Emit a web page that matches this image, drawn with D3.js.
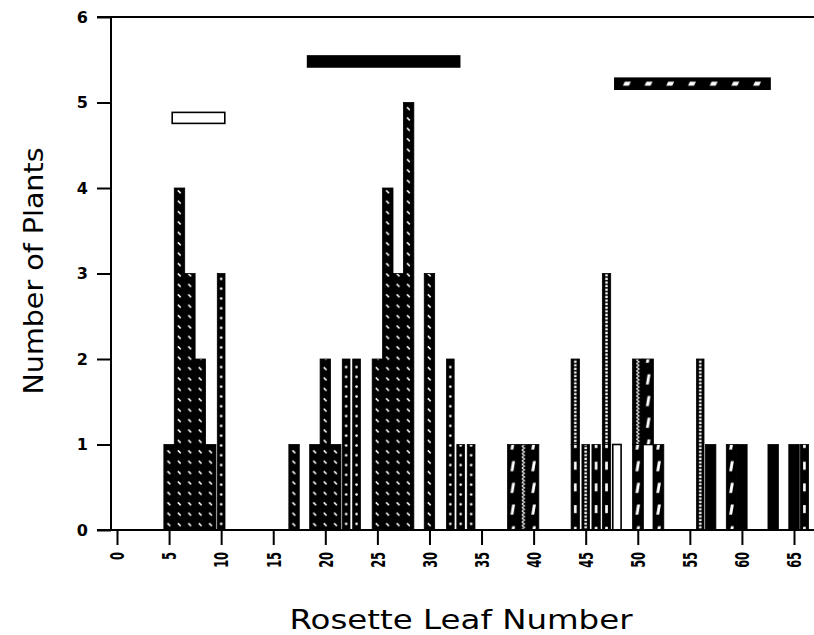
<!DOCTYPE html>
<html>
<head>
<meta charset="utf-8">
<script src="https://cdn.jsdelivr.net/npm/d3@7"></script>
<style>
  body { margin: 0; background: #fff; }
  svg { display: block; }
</style>
</head>
<body>
<div id="chart"></div>
<script>
// ---- data: number of plants per rosette leaf number ----
// one list per bar pattern, [leaf number, plants]
const diagDotCounts = [[5, 1], [6, 4], [7, 3], [8, 2], [9, 1], [17, 1], [19, 1], [20, 2], [21, 1],
                       [25, 2], [26, 4], [27, 3], [28, 5], [30, 3]];
const colDotCounts  = [[10, 3], [22, 2], [23, 2], [32, 2], [33, 1], [34, 1]];
const openCounts    = [[48, 1], [51, 1]];
const slashCounts   = [[38, 1], [40, 1], [50, 1], [51, 1], [52, 1], [59, 1]];
const zigzagCounts  = [[39, 1], [50, 1]];
const dashCounts    = [[44, 1], [46, 1], [47, 1], [66, 1]];
const ladderCounts  = [[44, 1], [45, 1], [47, 2], [56, 2]];
const solidCounts   = [[57, 1], [60, 1], [63, 1], [65, 1]];

// stacking order, bottom to top
const seriesKeys = ['diagDot', 'colDot', 'open', 'slash', 'zigzag', 'dash', 'ladder', 'solid'];
const seriesCounts = {
  diagDot: diagDotCounts, colDot: colDotCounts, open: openCounts, slash: slashCounts,
  zigzag: zigzagCounts, dash: dashCounts, ladder: ladderCounts, solid: solidCounts
};

// range bars above the histogram
const rangeKeys  = ['early', 'middle', 'late'];
const rangeStart = [5.3, 18.3, 47.8];
const rangeEnd   = [10.35, 32.9, 62.7];
const rangeLevel = [4.82, 5.48, 5.22];

const xTicks = d3.range(0, 66, 5);
const yTicks = d3.range(0, 7);

// ---- styles ----
const barWidthFrac = { diagDot: 1, colDot: 0.74, open: 0.8, slash: 1, zigzag: 1, dash: 0.8, ladder: 0.72, solid: 1 };
const rangeFill = { early: '#fff', middle: '#000', late: 'url(#p-hslash)' };

const W = 814, H = 635;
const plot = { left: 111, top: 17, bottom: 530, right: W };

const x = d3.scaleLinear().domain([0, 65]).range([117, 794]);
const y = d3.scaleLinear().domain([0, 6]).range([plot.bottom, plot.top]);
const bw = x(1) - x(0);

const svg = d3.select('#chart').append('svg')
  .attr('width', W)
  .attr('height', H);

// ---- patterns ----
const defs = svg.append('defs');
const px0 = x(0) - bw / 2;
const c = bw / 2;

function pattern(id, h) {
  const p = defs.append('pattern')
    .attr('id', id)
    .attr('patternUnits', 'userSpaceOnUse')
    .attr('x', px0).attr('y', 0)
    .attr('width', bw).attr('height', h);
  p.append('rect').attr('width', bw).attr('height', h).attr('fill', '#000');
  return p;
}

pattern('p-diagDot', 10.4)
  .append('path')
  .attr('d', `M${c - 1.6},${3.2}L${c + 1.2},${6}`)
  .attr('stroke', '#fff').attr('stroke-width', 1.5);

pattern('p-colDot', 9.8)
  .append('circle').attr('cx', c).attr('cy', 4.5).attr('r', 1.3).attr('fill', '#fff');

pattern('p-slash', 21.7)
  .append('path')
  .attr('d', `M${c - 2.3},15.5L${c - 0.6},5.5L${c + 2.3},5.5L${c + 0.6},15.5Z`)
  .attr('fill', '#fff');

pattern('p-zigzag', 3.6)
  .append('path')
  .attr('d', `M${c - 1.3},0L${c + 1.3},1.8L${c - 1.3},3.6`)
  .attr('fill', 'none').attr('stroke', '#fff').attr('stroke-width', 1.1);

pattern('p-dash', 21.7)
  .append('rect').attr('x', c - 1.3).attr('y', 6).attr('width', 2.6).attr('height', 8).attr('fill', '#fff');

pattern('p-ladder', 3.6)
  .append('rect').attr('x', c - 1.2).attr('y', 0.6).attr('width', 2.4).attr('height', 2.2).attr('fill', '#fff');

// horizontal hatch for the top range bar
const hp = defs.append('pattern')
  .attr('id', 'p-hslash')
  .attr('patternUnits', 'userSpaceOnUse')
  .attr('x', x(rangeStart[2])).attr('y', y(rangeLevel[2]) - 5.5)
  .attr('width', 21.7).attr('height', 11);
hp.append('rect').attr('width', 21.7).attr('height', 11).attr('fill', '#000');
hp.append('path').attr('d', 'M8,7.5L10,3.5L16,3.5L14,7.5Z').attr('fill', '#fff');

const fillFor = k => k === 'open' ? '#fff' : k === 'solid' ? '#000' : `url(#p-${k})`;

// ---- stacked table ----
const rows = d3.range(1, 67).map(leaf => {
  const r = { leaf };
  seriesKeys.forEach(k => {
    const hit = seriesCounts[k].find(d => d[0] === leaf);
    r[k] = hit ? hit[1] : 0;
  });
  return r;
});
const widthOf = r => d3.max(seriesKeys, k => r[k] > 0 ? barWidthFrac[k] : 0);

const stacked = d3.stack().keys(seriesKeys)(rows);

stacked.forEach(layer => {
  svg.append('g')
    .selectAll('rect')
    .data(layer.filter(d => d[1] > d[0]))
    .enter()
    .append('rect')
    .attr('x', d => x(d.data.leaf) - bw * widthOf(d.data) / 2)
    .attr('width', d => bw * widthOf(d.data))
    .attr('y', d => y(d[1]))
    .attr('height', d => y(d[0]) - y(d[1]))
    .attr('fill', fillFor(layer.key))
    .attr('stroke', '#000')
    .attr('stroke-width', layer.key === 'open' ? 1.6 : 0.8);
});

// ---- range bars ----
svg.append('g')
  .selectAll('rect')
  .data(rangeKeys)
  .enter()
  .append('rect')
  .attr('x', (d, i) => x(rangeStart[i]))
  .attr('width', (d, i) => x(rangeEnd[i]) - x(rangeStart[i]))
  .attr('y', (d, i) => y(rangeLevel[i]) - 5.5)
  .attr('height', 11)
  .attr('fill', d => rangeFill[d])
  .attr('stroke', '#000')
  .attr('stroke-width', 1.6);

// ---- axes ----
const font = '"DejaVu Sans", Verdana, sans-serif';

svg.append('line')
  .attr('x1', plot.left - 14).attr('x2', plot.right)
  .attr('y1', y(6)).attr('y2', y(6))
  .attr('stroke', '#000').attr('stroke-width', 2);
svg.append('line')
  .attr('x1', plot.left - 14).attr('x2', plot.right)
  .attr('y1', y(0)).attr('y2', y(0))
  .attr('stroke', '#000').attr('stroke-width', 2);
svg.append('line')
  .attr('x1', plot.left).attr('x2', plot.left)
  .attr('y1', y(6)).attr('y2', y(0))
  .attr('stroke', '#000').attr('stroke-width', 2);

const yAxis = svg.append('g')
  .attr('transform', `translate(${plot.left},0)`)
  .call(d3.axisLeft(y).tickValues(yTicks).tickFormat(d3.format('d')).tickSize(14).tickPadding(9));
yAxis.select('.domain').remove();
yAxis.selectAll('line').attr('stroke-width', 2);
yAxis.selectAll('text')
  .style('font-family', font).style('font-size', '16px').style('font-weight', 'bold').attr('fill', '#000');

const xAxis = svg.append('g')
  .attr('transform', `translate(0,${plot.bottom})`)
  .call(d3.axisBottom(x).tickValues(xTicks).tickFormat(d3.format('d')).tickSize(15));
xAxis.select('.domain').remove();
xAxis.selectAll('line').attr('stroke-width', 2);
xAxis.selectAll('text')
  .attr('transform', 'rotate(-90) scale(0.6,1)')
  .attr('x', -22 / 0.6)
  .attr('y', 0)
  .attr('dy', '0.36em')
  .style('text-anchor', 'end')
  .style('font-family', font).style('font-size', '19px').style('font-weight', 'bold').attr('fill', '#000');

// ---- titles ----
svg.append('text')
  .attr('x', 461).attr('y', 629)
  .attr('text-anchor', 'middle')
  .attr('textLength', 343).attr('lengthAdjust', 'spacingAndGlyphs')
  .style('font-family', font).style('font-size', '26px')
  .text('Rosette Leaf Number');

svg.append('text')
  .attr('transform', 'translate(43,271) rotate(-90)')
  .attr('text-anchor', 'middle')
  .attr('textLength', 247).attr('lengthAdjust', 'spacingAndGlyphs')
  .style('font-family', font).style('font-size', '26px')
  .text('Number of Plants');
</script>
</body>
</html>
